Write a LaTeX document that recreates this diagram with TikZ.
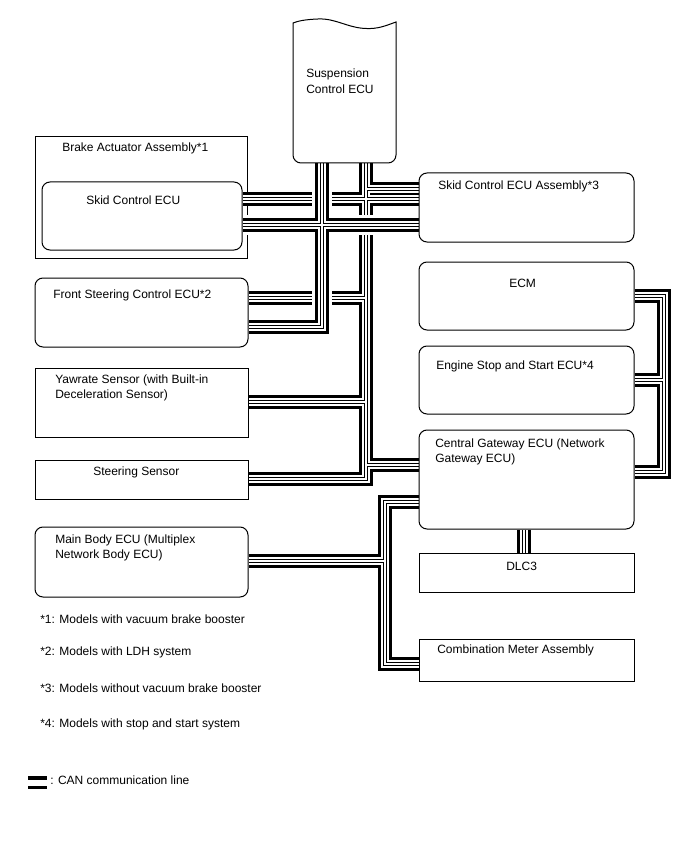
\documentclass[tikz,border=0pt]{standalone}
\usepackage{fontspec}
\setmainfont{Liberation Sans}
\usetikzlibrary{fit}
\pgfdeclarelayer{outer}
\pgfdeclarelayer{buses}
\pgfsetlayers{outer,buses,main}
\tikzset{
  outl/.style={draw=black, line width=0.75pt},
  rbox/.style={outl, fill=white, rounded corners=6pt, inner sep=0pt},
  sbox/.style={outl, fill=white, inner sep=0pt},
  txt/.style={anchor=west, inner sep=0pt, align=left, font=\fontsize{9pt}{11.6pt}\selectfont},
  busL1/.style={line width=10.1pt, draw=black},
  busL2/.style={line width=5.6pt, draw=white},
  busL3/.style={line width=2.4pt, draw=black},
  busL4/.style={line width=0.9pt, draw=white},
  busHalo/.style={line width=14.6pt, draw=white},
  legbar/.style={line width=2.5pt, draw=black},
}
\newcommand\busgroupA[1]{%
  \draw[#1] (susp.south -| jc) -- (jc) -- (cgw.west |- jc);
  \draw[#1] (skid.east |- jb) -- (assy.west |- jb);
  \draw[#1] (ja) -- (assy.west |- ja);
  \draw[#1] (fs.east |- jf) -- (jf);
  \draw[#1] (yaw.east |- jy) -- (jy);
  \draw[#1] (ss.east |- js) -- (js) -- (jc);
  \draw[#1] (cgw.south -| jd) -- (dlc.north -| jd);
  \draw[#1] (ecm.east |- je1) -- (je1) -- (je3) -- (cgw.east |- je3);
  \draw[#1] (ess.east |- je2) -- (je2);
  \draw[#1] (cgw.west |- jm1) -- (jm1) -- (jm3) -- (cm.west |- jm3);
  \draw[#1] (mb.east |- jm2) -- (jm2);
}
\newcommand\busgroupB[1]{%
  \draw[#1] (susp.south -| jl) -- (jl) -- (fs.east |- jl);
  \draw[#1] (skid.east |- jt) -- (assy.west |- jt);
}
\begin{document}
\begin{tikzpicture}[x=0.75pt,y=-0.75pt]
\useasboundingbox (0,0) rectangle (688,852);
% junction coordinates
\coordinate (jc) at (366,465);
\coordinate (jb) at (366,199);
\coordinate (ja) at (366,189);
\coordinate (jf) at (366,298);
\coordinate (jy) at (366,402);
\coordinate (js) at (366,479);
\coordinate (jd) at (524,540);
\coordinate (je1) at (664,296);
\coordinate (je2) at (664,380);
\coordinate (je3) at (664,472);
\coordinate (jm1) at (385,502);
\coordinate (jm2) at (385,561);
\coordinate (jm3) at (385,664);
\coordinate (jl) at (322,327);
\coordinate (jt) at (322,225);

% Suspension Control ECU
\node[inner sep=0pt, outer sep=0pt, fit={(293,22) (396,163)}] (susp) {};
\filldraw[outl, fill=white] (293,32) [rounded corners=6pt] -- (293,163) -- (396,163) -- (396,140) [sharp corners] -- (396,22)
  .. controls (385,26) and (378,29) .. (366,28.5)
  .. controls (348,28) and (335,18) .. (318,19)
  .. controls (305,19.5) and (298,21) .. (293,23) -- cycle;
\node[txt] (tsusp) at (306,81) {Suspension\\Control ECU};

\begin{pgfonlayer}{outer}
\node[sbox, fill=none, fit={(35,137) (247,258)}] (brake) {};
\end{pgfonlayer}
\node[txt] (tbrake) at (62,148) {Brake Actuator Assembly*1};

\node[rbox, fit={(42,182) (242,250)}] (skid) {};
\node[txt] (tskid) at (86,200) {Skid Control ECU};
\node[rbox, fit={(419,173) (634,242)}] (assy) {};
\node[txt] (tassy) at (438,186) {Skid Control ECU Assembly*3};
\node[rbox, fit={(35,278) (248,347)}] (fs) {};
\node[txt] (tfs) at (53,295) {Front Steering Control ECU*2};
\node[rbox, fit={(419,262) (634,330)}] (ecm) {};
\node[txt] (tecm) at (509,283) {ECM};
\node[sbox, fit={(35,368) (248,437)}] (yaw) {};
\node[txt] (tyaw) at (55,388) {Yawrate Sensor (with Built-in\\Deceleration Sensor)};
\node[rbox, fit={(419,346) (634,414)}] (ess) {};
\node[txt] (tess) at (436,366) {Engine Stop and Start ECU*4};
\node[sbox, fit={(35,460) (248,499)}] (ss) {};
\node[txt] (tss) at (93,472) {Steering Sensor};
\node[rbox, fit={(419,430) (634,529)}] (cgw) {};
\node[txt] (tcgw) at (435,452) {Central Gateway ECU (Network\\Gateway ECU)};
\node[rbox, fit={(35,527) (248,597)}] (mb) {};
\node[txt] (tmb) at (55,548) {Main Body ECU (Multiplex\\Network Body ECU)};
\node[sbox, fit={(419,553) (634,592)}] (dlc) {};
\node[txt] (tdlc) at (506,566) {DLC3};
\node[sbox, fit={(419,639) (634,681)}] (cm) {};
\node[txt] (tcm) at (437,650) {Combination Meter Assembly};

% footnotes
\node[txt] (fn1) at (40,619) {*1: Models with vacuum brake booster};
\node[txt] (fn2) at (40,652) {*2: Models with LDH system};
\node[txt] (fn3) at (40,688) {*3: Models without vacuum brake booster};
\node[txt] (fn4) at (40,724) {*4: Models with stop and start system};

% legend
\coordinate (lg1) at (28,778);
\coordinate (lg2) at (47,778);
\coordinate (lg3) at (28,787.5);
\coordinate (lg4) at (47,787.5);
\draw[legbar] (lg1) -- (lg2);
\draw[legbar] (lg3) -- (lg4);
\node[txt] (leg) at (50,780) {: CAN communication line};

% CAN buses
\begin{pgfonlayer}{buses}
\busgroupA{busL1}
\busgroupA{busL2}
\busgroupA{busL3}
\busgroupA{busL4}
\busgroupB{busHalo}
\busgroupB{busL1}
\busgroupB{busL2}
\busgroupB{busL3}
\busgroupB{busL4}
\end{pgfonlayer}
\end{tikzpicture}
\end{document}
